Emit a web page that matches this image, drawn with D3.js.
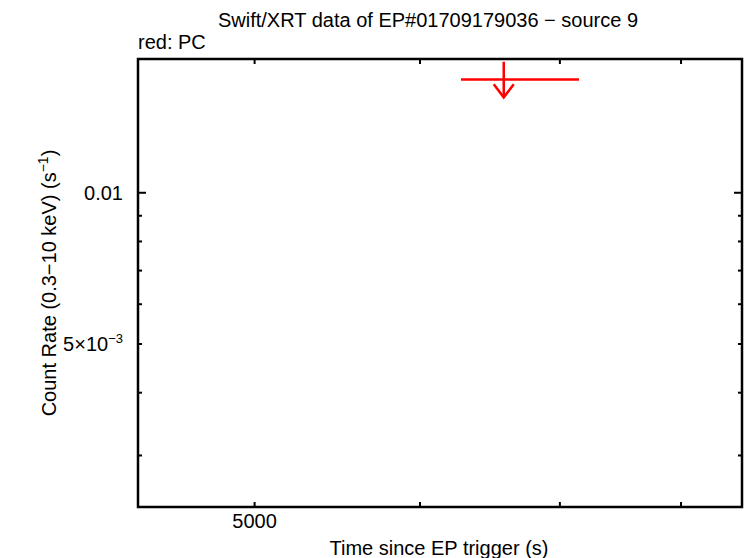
<!DOCTYPE html>
<html><head><meta charset="utf-8">
<script src="https://cdn.jsdelivr.net/npm/d3@7"></script>
<style>body{margin:0;background:#fff}svg{display:block}text{font-family:"Liberation Sans",Arial,sans-serif;fill:#000}</style>
</head><body>
<svg id="c" width="746" height="558"></svg>
<script>
// Data
const times = [6580];
const timeErrLo = [6277];
const timeErrHi = [7149];
const rates = [0.0168];      // upper limit
const isUpperLimit = [true];
const xDomain = [4397, 8556];
const yDomain = [0.002369, 0.01846];
const xTicksMajor = [5000];
const xTicksMinor = [6000, 7000, 8000];
const xTickLabels = ["5000"];
const yTicksMajor = [0.01];
const yTicksMinor = [0.003, 0.004, 0.005, 0.006, 0.007, 0.008, 0.009];
const yTickLabels = [{v: 0.01, base: "0.01", sup: ""}, {v: 0.005, base: "5×10", sup: "−3"}];

const L = 138, R = 742, T = 59, B = 507;
const FS = 20;
const svg = d3.select("#c");
const x = d3.scaleLog().domain(xDomain).range([L, R]);
const y = d3.scaleLog().domain(yDomain).range([B, T]);

// ticks
const g = svg.append("g").attr("stroke", "#000").attr("stroke-width", 2);
function xt(v, len) {
  g.append("line").attr("x1", x(v)).attr("x2", x(v)).attr("y1", B).attr("y2", B - len);
  g.append("line").attr("x1", x(v)).attr("x2", x(v)).attr("y1", T).attr("y2", T + len);
}
xTicksMajor.forEach(v => xt(v, 5));
xTicksMinor.forEach(v => xt(v, 5));
function yt(v, len) {
  g.append("line").attr("y1", y(v)).attr("y2", y(v)).attr("x1", L).attr("x2", L + len);
  g.append("line").attr("y1", y(v)).attr("y2", y(v)).attr("x1", R).attr("x2", R - len);
}
yTicksMajor.forEach(v => yt(v, 8));
yTicksMinor.forEach(v => yt(v, 4));

// frame
svg.append("rect").attr("x", L).attr("y", T).attr("width", R - L).attr("height", B - T)
  .attr("fill", "none").attr("stroke", "#000").attr("stroke-width", 2.5);

// tick labels
xTicksMajor.forEach((v, i) => {
  svg.append("text").attr("x", x(v)).attr("y", 528).attr("text-anchor", "middle")
    .attr("font-size", FS).text(xTickLabels[i]);
});
yTickLabels.forEach(d => {
  const t = svg.append("text").attr("x", 123).attr("y", y(d.v) + 7).attr("text-anchor", "end").attr("font-size", FS);
  t.append("tspan").text(d.base);
  if (d.sup) t.append("tspan").attr("dy", -8).attr("font-size", 13).text(d.sup);
});

// axis titles
svg.append("text").attr("x", 439).attr("y", 555).attr("text-anchor", "middle").attr("font-size", FS)
  .text("Time since EP trigger (s)");
const yl = svg.append("text").attr("transform", "translate(56,283) rotate(-90)").attr("text-anchor", "middle").attr("font-size", FS);
yl.append("tspan").text("Count Rate (0.3−10 keV) (s");
yl.append("tspan").attr("dy", -8).attr("font-size", 14).text("−1");
yl.append("tspan").attr("dy", 8).text(")");

svg.append("text").attr("x", 428).attr("y", 27).attr("text-anchor", "middle").attr("font-size", FS)
  .text("Swift/XRT data of EP#01709179036 − source 9");
svg.append("text").attr("x", 138).attr("y", 49).attr("font-size", FS).text("red: PC");

// data
const pts = times.map((t, i) => ({t, lo: timeErrLo[i], hi: timeErrHi[i], r: rates[i], ul: isUpperLimit[i]}));
const dg = svg.append("g").attr("stroke", "red").attr("stroke-width", 2.5).attr("fill", "none");
pts.forEach(p => {
  const cx = x(p.t), cy = y(p.r);
  dg.append("line").attr("x1", x(p.lo)).attr("x2", x(p.hi)).attr("y1", cy).attr("y2", cy);
  if (p.ul) {
    const top = y(p.r * 1.085), bot = y(p.r / 1.085);
    dg.append("line").attr("x1", cx).attr("x2", cx).attr("y1", top).attr("y2", bot);
    dg.append("path").attr("d", `M${cx - 10},${bot - 13}L${cx},${bot}L${cx + 10},${bot - 13}`);
  }
});
</script>
</body></html>
